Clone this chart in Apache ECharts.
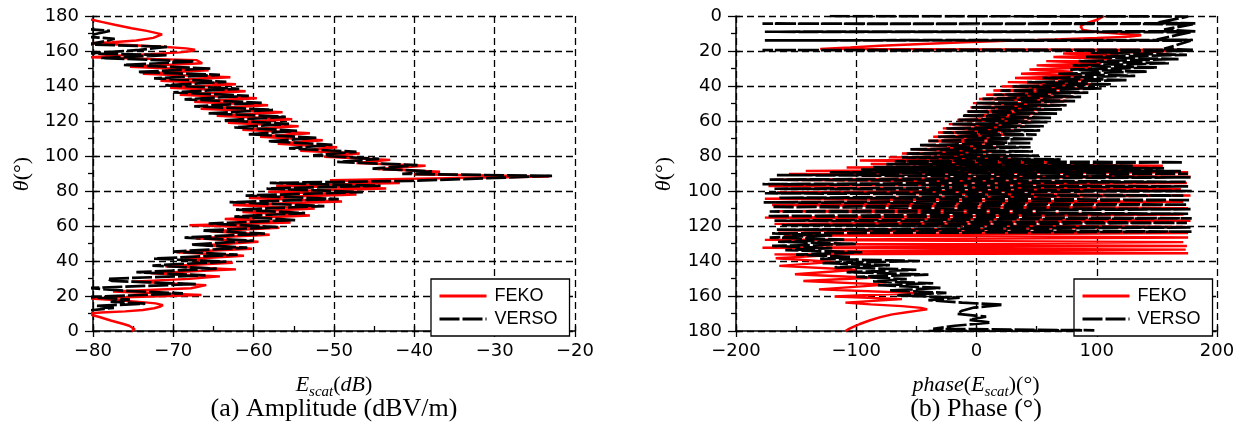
<!DOCTYPE html>
<html><head><meta charset="utf-8">
<script src="https://cdn.jsdelivr.net/npm/echarts@6/dist/echarts.min.js"></script>
<style>html,body{margin:0;padding:0;background:#fff}#c{width:1238px;height:423px}</style>
</head><body><div id="c"></div>
<script>
// ---- Data: pairs [theta (deg), value] ----
const fekoAmp = [
[0,-75.2],[1,-74.8],[2,-75.0],[3,-75.5],[4,-76.2],[5,-77.0],[6,-77.8],[7,-78.5],[8,-79.2],[9,-80.0],[10,-80.6],
[10.6,-79.0],[11.2,-76.0],[12,-73.8],[13,-72.4],[14,-71.6],[14.8,-71.3],[15.8,-72.2],[16.8,-74.6],[17.7,-77.4],[18.6,-80.5],
[20.6,-66.5],[22.6,-77.5],[24.4,-67.8],[26.2,-65.9],[28.2,-75.2],[29.8,-68.0],[31.2,-64.2],[33.0,-72.8],[35.2,-62.2],[37.0,-71.0],
[39.0,-62.6],[41.0,-68.6],[43.0,-61.2],[45.0,-69.6],[47.0,-60.2],[49.0,-66.0],[51.0,-59.4],[53.0,-67.2],[55.0,-58.0],[57.0,-65.4],
[59.0,-56.8],[60.4,-68.0],[62.0,-55.4],[64.0,-63.6],[66.0,-53.0],[68.0,-61.4],[70.0,-52.4],[72.0,-62.6],[74.0,-49.0],[76.0,-60.6],
[78.0,-47.2],[79.6,-58.2],[81.4,-43.5],[83.0,-57.2],[84.6,-41.8],[86.2,-50.5],[88.3,-23.2],[89.6,-40.0],[91.0,-36.8],[92.6,-44.5],
[94.4,-38.6],[96.0,-47.2],[97.8,-43.0],[99.6,-51.2],[101.4,-46.8],[103.0,-54.2],[105.0,-49.6],[107.0,-57.0],[109.0,-51.4],[111.0,-59.2],
[113.0,-53.0],[115.0,-61.4],[117.0,-54.4],[119.0,-63.2],[121.0,-55.2],[123.0,-64.6],[125.0,-56.4],[127.0,-66.6],[129.0,-58.2],[131.0,-67.4],
[133.0,-59.6],[135.0,-69.2],[137.0,-61.0],[139.0,-70.4],[141.0,-62.2],[143.0,-71.6],[145.0,-62.9],[147.0,-73.8],[149.0,-65.6],[151.0,-75.4],
[153.0,-66.4],[154.8,-67.1],[156.4,-80.4],
[157.2,-77.8],[158.2,-72.8],[159.2,-69.2],[160.0,-67.7],[160.7,-67.3],[161.5,-68.4],[162.4,-71.4],[163.4,-75.6],[164.4,-80.2],
[165.0,-77.6],[166.0,-74.6],[167.5,-72.5],[169.5,-71.4],[171.5,-73.3],[173.0,-75.2],[175.0,-77.3],[176.5,-78.8],[177.7,-80.0],[179.0,-81.5],[180,-83]
];
const versoAmp = [
[0,-86],[5,-85],[9,-83],[11.5,-81],[13.2,-77.4],[14.4,-79.5],[15.6,-73.5],[16.8,-77.8],[18.0,-75.4],[19.4,-80.6],[21.5,-68.8],[23.0,-76.2],
[24.6,-80.4],[26.8,-67.2],[28.6,-77.6],[29.8,-78.2],[31.8,-66.0],[33.6,-74.6],[35.6,-64.6],[37.4,-72.6],[39.6,-63.4],[41.4,-72.4],
[43.6,-62.0],[45.4,-70.0],[47.6,-60.8],[49.4,-67.8],[51.6,-60.0],[53.4,-68.6],[55.6,-58.6],[57.4,-66.4],[59.4,-57.0],[61.4,-65.6],
[63.4,-54.8],[65.4,-62.4],[67.4,-53.6],[69.4,-62.2],[71.4,-51.2],[73.6,-63.0],[75.4,-49.4],[77.4,-61.0],[79.4,-46.4],[81.4,-58.4],
[83.0,-44.2],[84.6,-58.0],[85.8,-40.4],[88.6,-22.8],[89.8,-41.5],[91.2,-37.8],[92.8,-45.2],[94.8,-39.6],[96.6,-49.6],[98.4,-44.4],
[100.4,-52.6],[102.4,-47.2],[104.4,-55.6],[106.4,-50.2],[108.4,-58.2],[110.4,-52.2],[112.4,-60.6],[114.4,-54.6],[116.4,-62.4],[118.4,-55.6],
[120.4,-63.6],[122.4,-56.0],[124.4,-65.6],[126.4,-57.6],[128.4,-67.4],[130.4,-59.0],[132.4,-68.6],[134.4,-60.6],[136.4,-70.0],[138.4,-61.8],
[140.4,-71.0],[142.4,-63.4],[144.4,-72.4],[146.4,-64.2],[148.0,-74.4],[150.0,-65.4],[152.0,-76.2],[154.0,-67.4],[156.0,-79.0],[157.6,-70.8],
[158.6,-80.6],[160.6,-74.2],[162.4,-70.8],[163.8,-80.6],[165.5,-78.6],[167.0,-77.3],[168.2,-81.0],[170.0,-79.4],[171.5,-77.9],[172.6,-81.0],
[175,-84],[180,-86]
];
const fekoPhase = [
[0,106],[1,104.5],[2,101],[3,96.5],[4,92],[5,88.5],[6,86.5],[7,86],[8,88.5],[9,98],[10,117],[11,137],[11.8,128],[12.6,100],[13.4,65],
[14.2,25],[15,-10],[16,-45],[17,-80],[18,-105],[18.8,-130],[19.4,171],[20.4,150],
[21.4,72],[22.4,118],[23.4,64],[24.6,112],[25.8,58],[27.0,104],[28.2,50],[29.4,96],[30.6,44],[31.8,80],[33.0,37],[34.2,88],[35.4,32],
[36.6,92],[37.8,26],[39.0,98],[40.2,21],[41.4,88],[42.6,14],[43.8,84],[45.0,8],[46.2,80],[47.4,2],[48.6,75],[49.8,-3],[51.0,70],
[52.2,-5],[53.4,64],[54.6,-8],[55.8,58],[57.0,-10],[58.2,52],[59.4,-16],[60.6,46],[61.8,-23],[63.0,40],[64.2,-28],[65.4,36],[66.6,-32],
[67.8,30],[69.0,-36],[70.2,26],[71.4,-40],[72.6,22],[73.8,-46],[75.0,18],[76.2,-53],[77.4,20],[78.6,-62],[79.8,25],[80.8,-73],[81.8,40],
[82.6,-97],[83.6,62],[84.6,-88],[85.6,155],[86.6,-108],[87.6,125],[88.5,-142],[89.3,176],[90.2,-156],
[91.8,178],[93.6,-168],[95.4,175],[97.2,-173],[99.0,170],[100.8,-166],[102.6,178],[104.4,-176],[106.2,172],[108.0,-170],[109.8,176],
[111.6,-164],[113.4,172],[115.2,-176],[117.0,178],[118.8,-168],[120.6,174],[122.4,-165],
[124.0,176],[125.3,-160],[126.6,176],[127.9,-176],[129.2,172],[130.4,-125],[131.4,175],[132.4,-178],[133.5,174],[134.6,-122],[135.6,176],[136.2,-168],
[136.8,-124],[138.4,-167],[140.5,-118],[142.8,-164],[145.0,-100],[147.6,-151],[149.6,-88],[151.4,-144],[153.5,-75],[156.2,-131],
[158.3,-50],[160.3,-118],[161.8,-62],[163.8,-109],[164.8,-88],[165.8,-62],[166.8,-46],[167.6,-41],[168.5,-50],[169.3,-58],[170.5,-70],
[172.1,-80],[174.0,-89],[176.0,-97],[177.5,-102],[178.8,-106],[180,-109]
];
const versoPhase = [
[0,-122],[0.3,176],[3.9,150],[4.2,182],[4.4,-178],[4.6,180],[7.8,156],[8.8,182],[9.0,-176],[9.2,178],[13.4,150],[13.7,180],[13.9,-176],
[14.1,178],[18.8,156],[19.3,180],[19.5,-178],[19.8,176],
[21.0,95],[22.2,175],[23.4,91],[24.6,168],[25.8,85],[27.0,160],[28.2,80],[29.4,150],[30.6,78],[31.8,142],[33.0,68],[34.2,132],[35.4,55],
[36.6,125],[37.8,42],[39.0,112],[40.2,30],[41.4,104],[42.6,20],[43.8,93],[45.0,14],[46.2,87],[47.4,5],[48.6,82],[49.8,0],[51.0,75],
[52.2,-4],[53.4,71],[54.6,-8],[55.8,67],[57.0,-12],[58.2,62],[59.4,-15],[60.6,59],[61.8,-20],[63.0,56],[64.2,-25],[65.4,53],[66.6,-28],
[67.8,50],[69.0,-32],[70.2,47],[71.4,-40],[72.6,45],[73.8,-47],[75.0,45],[76.2,-55],[77.4,47],[78.6,-58],[79.8,52],[80.8,-62],[82.0,70],
[83.0,-68],[83.6,172],[84.6,-75],[85.6,130],[86.4,-86],[87.0,156],[87.8,-96],[88.6,170],[89.4,-122],[90.2,176],
[90.9,-166],[92.2,178],[93.5,-172],[94.8,174],[96.1,-178],[97.4,176],[98.7,-168],[100.0,179],[101.3,-176],[102.6,172],[103.9,-164],
[105.2,178],[106.5,-177],[107.8,175],[109.1,-170],[110.4,178],[111.7,-172],[113.0,176],[114.3,-174],[115.6,179],[116.9,-168],[118.2,175],
[119.5,-162],[120.8,178],[122.1,-166],[123.2,179],
[124.2,-170],[125.4,-120],[126.6,-172],[127.8,-110],[129.0,-165],[130.2,-100],[131.4,-170],[132.6,-120],[133.8,-159],[135.0,-95],
[136.4,-150],[137.6,-105],[138.8,-130],[140.0,-47],[141.2,-128],[142.4,-72],[143.6,-118],[145.0,-50],[146.4,-108],[147.8,-40],
[149.0,-100],[150.4,-58],[151.6,-86],[152.7,-36],[153.8,-82],[155.4,-30],[156.8,-72],[158.2,-25],[159.6,-66],[161.0,-14],[162.4,-40],
[163.8,-12],[165.0,22],[166.6,-2],[168.4,-12],[170.2,-16],[171.8,8],[173.6,-6],[175.2,12],[177.0,-18],[178.8,-36],[179.6,98],[180,-40]
];
const seriesNames = ['FEKO', 'VERSO'];
const ampTicks = {min: -80, max: -20, interval: 10};
const phaseTicks = {min: -200, max: 200, interval: 100};
const thetaTicks = {min: 0, max: 180, interval: 20};

// ---- Chart ----
const chart = echarts.init(document.getElementById('c'), null, {renderer: 'canvas'});
const fmt = v => String(v).replace('-', '\u2212');
const grid = [
  {left: 93, top: 16, width: 482, height: 315},
  {left: 736, top: 16, width: 481, height: 315}
];
const dash = {color: '#000', width: 1.3, type: [7, 4]};
function xMain(gi, t) {
  return {type: 'value', gridIndex: gi, min: t.min, max: t.max, interval: t.interval, position: 'bottom',
    axisLine: {show: true, onZero: false, lineStyle: {color: '#000', width: 1.5}},
    axisTick: {show: true, inside: false, length: 6, lineStyle: {color: '#000', width: 1.3}},
    minorTick: {show: false},
    axisLabel: {color: '#000', fontSize: 18, fontFamily: 'DejaVu Sans', margin: 11, formatter: fmt},
    splitLine: {show: true, lineStyle: dash}};
}
function xOver(gi, t) {
  return {type: 'value', gridIndex: gi, min: t.min, max: t.max, interval: t.interval, position: 'bottom',
    axisLine: {show: false, onZero: false},
    axisTick: {show: true, inside: true, length: 5, lineStyle: {color: '#000', width: 1.3}},
    minorTick: {show: true, splitNumber: 2, length: 5, lineStyle: {color: '#000', width: 1.3}},
    axisLabel: {show: false}, splitLine: {show: false}};
}
function yMain(gi, t, inv) {
  return {type: 'value', gridIndex: gi, min: t.min, max: t.max, interval: t.interval, inverse: inv, position: 'left',
    axisLine: {show: true, onZero: false, lineStyle: {color: '#000', width: 1.5}},
    axisTick: {show: true, inside: false, length: 8, lineStyle: {color: '#000', width: 1.3}},
    minorTick: {show: true, splitNumber: 2, length: 5, lineStyle: {color: '#000', width: 1.3}},
    axisLabel: {color: '#000', fontSize: 18, fontFamily: 'DejaVu Sans', margin: 14, formatter: fmt},
    splitLine: {show: true, lineStyle: dash}};
}
function yOver(gi, t, inv) {
  return {type: 'value', gridIndex: gi, min: t.min, max: t.max, interval: t.interval, inverse: inv, position: 'left',
    axisLine: {show: false, onZero: false},
    axisTick: {show: true, inside: true, length: 4, lineStyle: {color: '#000', width: 1.3}},
    minorTick: {show: false}, axisLabel: {show: false}, splitLine: {show: false}};
}
const toXY = arr => arr.map(p => [p[1], p[0]]);
const red = {color: '#ff0000', width: 2.4};
const blk = {color: '#000000', width: 2.7, type: [20, 3]};
function mk(name, gi, arr, ls, z) {
  return {name, type: 'line', xAxisIndex: gi, yAxisIndex: gi, data: toXY(arr), symbol: 'none', showSymbol: false,
    legendIcon: 'rect',
    lineStyle: ls, itemStyle: {color: ls.color}, clip: true, silent: true, z, animation: false};
}
function legend(left) {
  return {data: seriesNames, orient: 'vertical', left, top: 279, padding: [8, 12, 8, 7], itemGap: 5,
    itemWidth: 47, itemHeight: 14, borderColor: '#000', borderWidth: 1.3, backgroundColor: '#fff',
    itemStyle: {opacity: 0}, lineStyle: {width: 3},
    selectedMode: false, textStyle: {fontSize: 18, fontFamily: 'Liberation Sans', color: '#000', padding: [0, 0, 0, 3]}};
}
const serif = 'Liberation Serif';
const richT = {
  i: {fontStyle: 'italic', fontSize: 22, fontFamily: serif, lineHeight: 30, verticalAlign: 'middle', color: '#000'},
  r: {fontSize: 22, fontFamily: serif, lineHeight: 30, verticalAlign: 'middle', color: '#000'},
  s: {fontStyle: 'italic', fontSize: 15, fontFamily: serif, lineHeight: 30, verticalAlign: 'bottom', color: '#000'}
};
function txt(x, y, text, rich, extra) {
  return Object.assign({type: 'text', x, y, silent: true,
    style: {text, rich, fontSize: 22, fontFamily: serif, fill: '#000', align: 'center', verticalAlign: 'middle'}}, extra || {});
}
const capStyle = t => ({style: {text: t, fontSize: 26, fontFamily: serif, fill: '#000', align: 'center', verticalAlign: 'middle'}});
const option = {
  animation: false,
  backgroundColor: '#fff',
  grid,
  xAxis: [xMain(0, ampTicks), xMain(1, phaseTicks), xOver(0, ampTicks), xOver(1, phaseTicks)],
  yAxis: [yMain(0, thetaTicks, false), yMain(1, thetaTicks, true), yOver(0, thetaTicks, false), yOver(1, thetaTicks, true)],
  legend: [legend(431), legend(1074)],
  series: [
    mk(seriesNames[0], 0, fekoAmp, red, 3),
    mk(seriesNames[1], 0, versoAmp, blk, 4),
    mk(seriesNames[0], 1, fekoPhase, red, 3),
    mk(seriesNames[1], 1, versoPhase, blk, 4)
  ],
  graphic: [
    txt(334, 385, '{i|E}{s|scat}{r|(}{i|dB}{r|)}', richT),
    txt(976, 385, '{i|phase}{r|(}{i|E}{s|scat}{r|)(°)}', richT),
    txt(334, 409, '', null, capStyle('(a) Amplitude (dBV/m)')),
    txt(976, 409, '', null, capStyle('(b) Phase (°)')),
    txt(22, 174, '{i|θ}{r|(°)}', richT, {rotation: Math.PI / 2}),
    txt(664, 174, '{i|θ}{r|(°)}', richT, {rotation: Math.PI / 2})
  ]
};
chart.setOption(option);
</script></body></html>
